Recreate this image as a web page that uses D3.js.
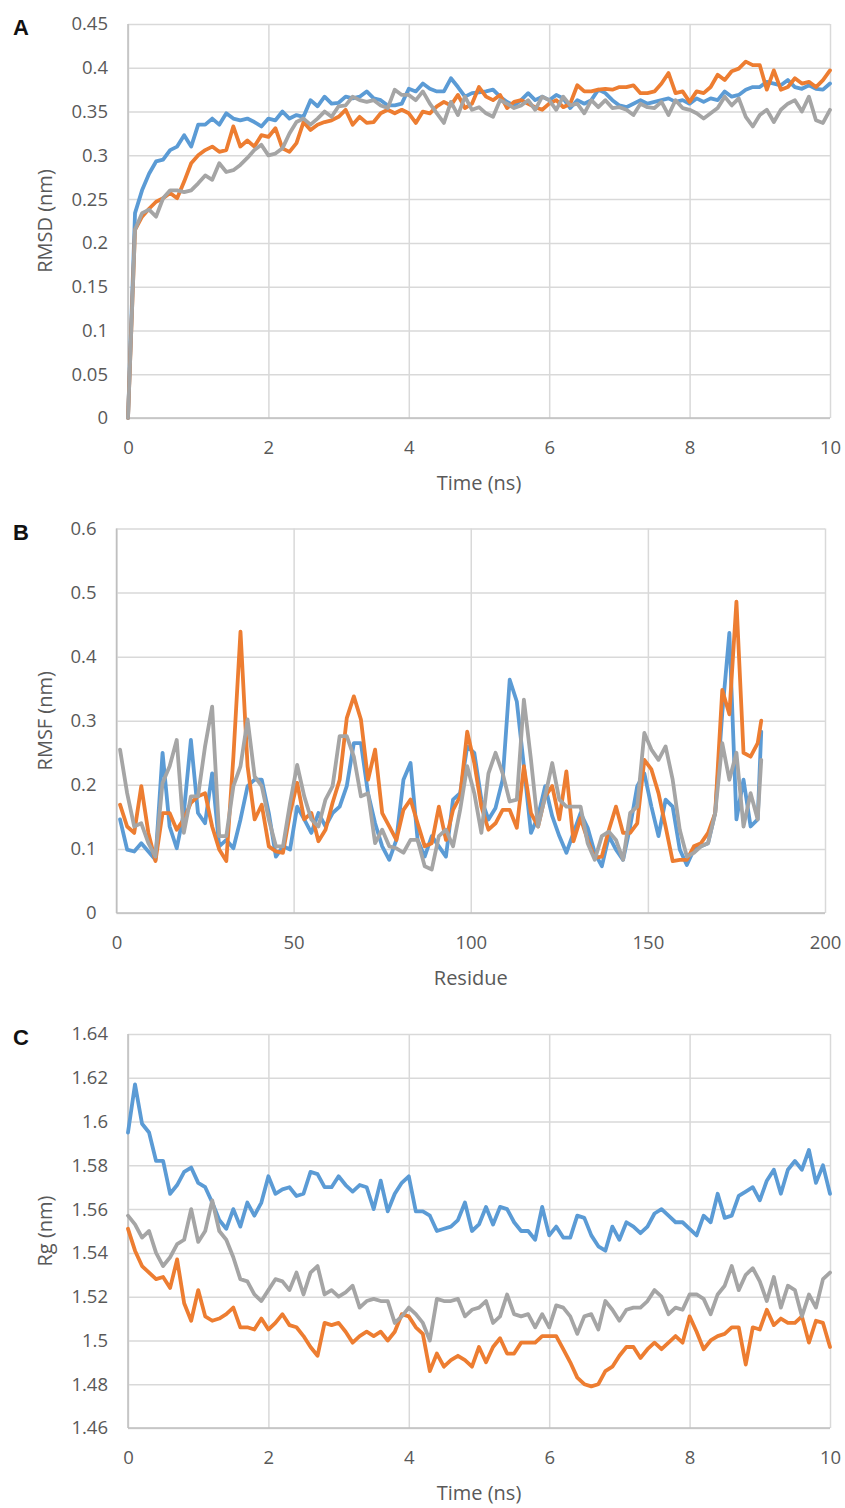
<!DOCTYPE html>
<html>
<head>
<meta charset="utf-8">
<script src="https://cdnjs.cloudflare.com/ajax/libs/d3/7.8.5/d3.min.js"></script>
<style>
body { margin: 0; background: #fff; }
</style>
</head>
<body>
<svg></svg>
<script>

// time axis for panels A and C (ns), one frame per 0.1 ns
var times = d3.range(0, 101).map(function (i) { return i / 10 })
// residues sampled for panel B
var residues = d3.range(1, 182, 2).concat([182])

var timeTicks = [0, 2, 4, 6, 8, 10]
var residueTicks = [0, 50, 100, 150, 200]
var rmsdTicks = [0, 0.05, 0.1, 0.15, 0.2, 0.25, 0.3, 0.35, 0.4, 0.45]
var rmsfTicks = [0, 0.1, 0.2, 0.3, 0.4, 0.5, 0.6]
var rgTicks = [1.46, 1.48, 1.5, 1.52, 1.54, 1.56, 1.58, 1.6, 1.62, 1.64]

var colors = ["#5b9bd5", "#ed7d31", "#a5a5a5"]

// panel A - RMSD
var rmsdBlue = [
 0, 0.234, 0.260, 0.279, 0.293, 0.295, 0.306, 0.310, 0.323, 0.310,
 0.335, 0.335, 0.342, 0.335, 0.348, 0.342, 0.340, 0.342, 0.338, 0.333,
 0.342, 0.340, 0.350, 0.342, 0.346, 0.344, 0.363, 0.356, 0.367, 0.359,
 0.360, 0.367, 0.365, 0.367, 0.373, 0.365, 0.363, 0.357, 0.357, 0.359,
 0.376, 0.373, 0.382, 0.376, 0.373, 0.373, 0.388, 0.378, 0.367, 0.371,
 0.372, 0.373, 0.375, 0.367, 0.361, 0.357, 0.363, 0.371, 0.363, 0.367,
 0.363, 0.369, 0.365, 0.354, 0.363, 0.359, 0.363, 0.375, 0.371, 0.363,
 0.357, 0.355, 0.359, 0.363, 0.359, 0.361, 0.363, 0.365, 0.361, 0.363,
 0.359, 0.365, 0.361, 0.365, 0.363, 0.373, 0.367, 0.369, 0.375, 0.378,
 0.378, 0.384, 0.382, 0.380, 0.386, 0.378, 0.376, 0.380, 0.376, 0.375,
 0.382]
var rmsdOrange = [
 0, 0.215, 0.230, 0.239, 0.247, 0.251, 0.257, 0.251, 0.270, 0.291,
 0.300, 0.306, 0.310, 0.304, 0.306, 0.333, 0.310, 0.317, 0.310, 0.323,
 0.321, 0.331, 0.308, 0.304, 0.314, 0.338, 0.329, 0.335, 0.338, 0.340,
 0.344, 0.352, 0.335, 0.344, 0.337, 0.338, 0.348, 0.352, 0.348, 0.352,
 0.348, 0.337, 0.350, 0.348, 0.356, 0.361, 0.357, 0.369, 0.354, 0.359,
 0.378, 0.367, 0.363, 0.369, 0.354, 0.361, 0.363, 0.359, 0.355, 0.352,
 0.359, 0.363, 0.355, 0.359, 0.380, 0.373, 0.373, 0.375, 0.376, 0.375,
 0.378, 0.378, 0.380, 0.371, 0.371, 0.373, 0.382, 0.394, 0.371, 0.373,
 0.361, 0.373, 0.371, 0.378, 0.392, 0.386, 0.396, 0.399, 0.407, 0.403,
 0.403, 0.375, 0.397, 0.375, 0.378, 0.388, 0.382, 0.384, 0.378, 0.386,
 0.397]
var rmsdGray = [
 0, 0.215, 0.234, 0.238, 0.230, 0.251, 0.260, 0.260, 0.258, 0.260,
 0.268, 0.277, 0.272, 0.291, 0.281, 0.283, 0.289, 0.297, 0.306, 0.312,
 0.300, 0.302, 0.308, 0.325, 0.338, 0.342, 0.335, 0.342, 0.350, 0.344,
 0.356, 0.357, 0.367, 0.363, 0.361, 0.363, 0.357, 0.354, 0.375, 0.369,
 0.369, 0.363, 0.373, 0.359, 0.348, 0.337, 0.361, 0.346, 0.367, 0.352,
 0.355, 0.348, 0.344, 0.363, 0.359, 0.354, 0.357, 0.363, 0.352, 0.367,
 0.363, 0.352, 0.367, 0.357, 0.359, 0.348, 0.363, 0.355, 0.363, 0.354,
 0.355, 0.352, 0.346, 0.359, 0.355, 0.354, 0.361, 0.346, 0.363, 0.354,
 0.352, 0.348, 0.342, 0.348, 0.354, 0.367, 0.357, 0.365, 0.344, 0.333,
 0.346, 0.352, 0.338, 0.352, 0.359, 0.363, 0.350, 0.367, 0.340, 0.337,
 0.352]

// panel B - RMSF
var rmsfBlue = [
 0.146, 0.099, 0.096, 0.109, 0.096, 0.083, 0.250, 0.135, 0.101, 0.156,
 0.270, 0.156, 0.140, 0.218, 0.104, 0.114, 0.101, 0.146, 0.198, 0.208,
 0.208, 0.156, 0.088, 0.104, 0.099, 0.166, 0.146, 0.125, 0.156, 0.135,
 0.156, 0.166, 0.198, 0.265, 0.265, 0.187, 0.140, 0.104, 0.083, 0.114,
 0.208, 0.234, 0.114, 0.088, 0.120, 0.104, 0.088, 0.177, 0.187, 0.260,
 0.250, 0.177, 0.146, 0.164, 0.208, 0.364, 0.330, 0.229, 0.125, 0.151,
 0.198, 0.151, 0.120, 0.094, 0.125, 0.156, 0.133, 0.094, 0.073, 0.120,
 0.099, 0.083, 0.135, 0.198, 0.218, 0.166, 0.120, 0.177, 0.166, 0.099,
 0.075, 0.099, 0.104, 0.109, 0.156, 0.312, 0.437, 0.146, 0.208, 0.135,
 0.146, 0.283]
var rmsfOrange = [
 0.169, 0.135, 0.125, 0.198, 0.125, 0.081, 0.156, 0.156, 0.130, 0.146,
 0.172, 0.182, 0.187, 0.135, 0.099, 0.081, 0.244, 0.439, 0.229, 0.146,
 0.169, 0.104, 0.096, 0.094, 0.156, 0.203, 0.146, 0.156, 0.112, 0.130,
 0.172, 0.208, 0.304, 0.338, 0.302, 0.208, 0.255, 0.156, 0.135, 0.114,
 0.161, 0.177, 0.140, 0.104, 0.109, 0.166, 0.114, 0.161, 0.182, 0.283,
 0.234, 0.166, 0.130, 0.140, 0.161, 0.161, 0.133, 0.229, 0.156, 0.135,
 0.182, 0.198, 0.146, 0.221, 0.112, 0.148, 0.114, 0.086, 0.088, 0.130,
 0.166, 0.125, 0.125, 0.140, 0.239, 0.224, 0.187, 0.135, 0.081, 0.083,
 0.083, 0.104, 0.109, 0.125, 0.156, 0.348, 0.310, 0.486, 0.250, 0.244,
 0.265, 0.300]
var rmsfGray = [
 0.255, 0.187, 0.135, 0.140, 0.109, 0.088, 0.203, 0.229, 0.270, 0.125,
 0.182, 0.182, 0.260, 0.322, 0.120, 0.120, 0.198, 0.229, 0.302, 0.213,
 0.198, 0.146, 0.104, 0.104, 0.172, 0.231, 0.182, 0.146, 0.135, 0.177,
 0.198, 0.276, 0.276, 0.244, 0.182, 0.187, 0.109, 0.130, 0.104, 0.101,
 0.094, 0.114, 0.114, 0.073, 0.068, 0.120, 0.130, 0.104, 0.161, 0.229,
 0.187, 0.125, 0.218, 0.250, 0.218, 0.174, 0.177, 0.333, 0.239, 0.135,
 0.182, 0.234, 0.177, 0.166, 0.166, 0.166, 0.109, 0.083, 0.120, 0.127,
 0.114, 0.083, 0.156, 0.166, 0.281, 0.255, 0.239, 0.260, 0.208, 0.130,
 0.088, 0.094, 0.104, 0.109, 0.156, 0.265, 0.208, 0.250, 0.135, 0.187,
 0.146, 0.239]

// panel C - radius of gyration
var rgBlue = [
 1.595, 1.617, 1.599, 1.595, 1.582, 1.582, 1.567, 1.571, 1.577, 1.579,
 1.572, 1.570, 1.563, 1.555, 1.551, 1.560, 1.552, 1.563, 1.557, 1.563,
 1.575, 1.567, 1.569, 1.570, 1.566, 1.567, 1.577, 1.576, 1.570, 1.570,
 1.575, 1.571, 1.568, 1.571, 1.570, 1.560, 1.573, 1.559, 1.567, 1.572,
 1.575, 1.559, 1.559, 1.557, 1.550, 1.551, 1.552, 1.555, 1.563, 1.550,
 1.553, 1.561, 1.553, 1.561, 1.560, 1.554, 1.550, 1.550, 1.546, 1.561,
 1.548, 1.552, 1.547, 1.547, 1.557, 1.556, 1.548, 1.543, 1.541, 1.552,
 1.546, 1.554, 1.552, 1.549, 1.552, 1.558, 1.560, 1.557, 1.554, 1.554,
 1.551, 1.548, 1.557, 1.554, 1.567, 1.556, 1.557, 1.566, 1.568, 1.570,
 1.564, 1.573, 1.578, 1.567, 1.578, 1.582, 1.578, 1.587, 1.572, 1.580,
 1.567]
var rgOrange = [
 1.551, 1.541, 1.534, 1.531, 1.528, 1.529, 1.524, 1.537, 1.517, 1.509,
 1.523, 1.511, 1.509, 1.510, 1.512, 1.515, 1.506, 1.506, 1.505, 1.510,
 1.505, 1.508, 1.512, 1.507, 1.506, 1.502, 1.497, 1.493, 1.508, 1.507,
 1.508, 1.504, 1.499, 1.502, 1.504, 1.502, 1.504, 1.500, 1.504, 1.512,
 1.511, 1.506, 1.503, 1.486, 1.494, 1.488, 1.491, 1.493, 1.491, 1.488,
 1.497, 1.490, 1.497, 1.501, 1.494, 1.494, 1.499, 1.499, 1.499, 1.502,
 1.502, 1.502, 1.496, 1.490, 1.483, 1.480, 1.479, 1.480, 1.486, 1.488,
 1.493, 1.497, 1.497, 1.492, 1.496, 1.499, 1.496, 1.499, 1.502, 1.499,
 1.511, 1.504, 1.496, 1.500, 1.502, 1.503, 1.506, 1.506, 1.489, 1.506,
 1.505, 1.514, 1.507, 1.510, 1.508, 1.508, 1.511, 1.499, 1.509, 1.508,
 1.497]
var rgGray = [
 1.557, 1.553, 1.547, 1.550, 1.540, 1.534, 1.538, 1.544, 1.546, 1.560,
 1.545, 1.550, 1.564, 1.550, 1.546, 1.538, 1.528, 1.527, 1.521, 1.518,
 1.523, 1.528, 1.527, 1.523, 1.531, 1.521, 1.531, 1.534, 1.521, 1.523,
 1.520, 1.522, 1.525, 1.515, 1.518, 1.519, 1.518, 1.518, 1.508, 1.511,
 1.515, 1.512, 1.508, 1.500, 1.519, 1.518, 1.518, 1.519, 1.511, 1.514,
 1.515, 1.518, 1.508, 1.511, 1.521, 1.512, 1.511, 1.512, 1.506, 1.512,
 1.506, 1.516, 1.515, 1.511, 1.503, 1.511, 1.512, 1.505, 1.518, 1.514,
 1.509, 1.514, 1.515, 1.515, 1.518, 1.523, 1.520, 1.512, 1.515, 1.514,
 1.521, 1.521, 1.519, 1.512, 1.521, 1.525, 1.534, 1.523, 1.530, 1.533,
 1.527, 1.518, 1.529, 1.515, 1.525, 1.523, 1.511, 1.521, 1.515, 1.528,
 1.531]


var svg = d3.select("svg")
    .attr("width", 845)
    .attr("height", 1508)

var drawPanel = function (p)
{
    var xScale = d3.scaleLinear()
        .domain([p.xTicks[0], p.xTicks[p.xTicks.length - 1]])
        .range([p.left, p.right])
    var yScale = d3.scaleLinear()
        .domain([p.yTicks[0], p.yTicks[p.yTicks.length - 1]])
        .range([p.bottom, p.top])

    var g = svg.append("g")

    // horizontal grid + y labels
    var yAxis = d3.axisLeft(yScale)
        .tickValues(p.yTicks)
        .tickSize(-(p.right - p.left))
        .tickPadding(20)
        .tickFormat(d3.format("~g"))
    g.append("g")
        .attr("transform", "translate(" + p.left + ",0)")
        .call(yAxis)
        .call(styleAxis)

    // vertical grid + x labels
    var xAxis = d3.axisBottom(xScale)
        .tickValues(p.xTicks)
        .tickSize(-(p.bottom - p.top))
        .tickPadding(23)
        .tickFormat(d3.format("~g"))
    g.append("g")
        .attr("transform", "translate(0," + p.bottom + ")")
        .call(xAxis)
        .call(styleAxis)

    // axis lines
    g.append("line")
        .attr("x1", p.left).attr("x2", p.left)
        .attr("y1", p.top).attr("y2", p.bottom)
        .attr("stroke", "#bfbfbf").attr("stroke-width", 1.5)
    g.append("line")
        .attr("x1", p.left).attr("x2", p.right)
        .attr("y1", p.bottom).attr("y2", p.bottom)
        .attr("stroke", "#bfbfbf").attr("stroke-width", 1.5)

    var lineGenerator = d3.line()
        .x(function (d, i) { return xScale(p.xs[i]) })
        .y(function (d) { return yScale(d) })

    p.series.forEach(function (s, i)
    {
        g.append("path")
            .datum(s)
            .attr("fill", "none")
            .attr("stroke", colors[i])
            .attr("stroke-width", 3.8)
            .attr("stroke-linejoin", "round")
            .attr("stroke-linecap", "round")
            .attr("d", lineGenerator)
    })

    // axis titles
    g.append("text")
        .attr("x", (p.left + p.right) / 2)
        .attr("y", p.bottom + 72)
        .attr("text-anchor", "middle")
        .attr("font-family", "Open Sans")
        .attr("font-size", 20)
        .attr("fill", "#595959")
        .text(p.xTitle)
    g.append("text")
        .attr("transform", "translate(52," + ((p.top + p.bottom) / 2) + ")rotate(-90)")
        .attr("text-anchor", "middle")
        .attr("font-family", "Open Sans")
        .attr("font-size", 20)
        .attr("fill", "#595959")
        .text(p.yTitle)

    // panel letter
    g.append("text")
        .attr("x", 13)
        .attr("y", p.top + 11)
        .attr("font-family", "Liberation Sans")
        .attr("font-weight", "bold")
        .attr("font-size", 22)
        .attr("fill", "#111")
        .text(p.letter)
}

var styleAxis = function (ax)
{
    ax.select(".domain").remove()
    ax.attr("font-family", "Open Sans").attr("font-size", 18.5)
    ax.selectAll(".tick line")
        .attr("stroke", "#d9d9d9")
        .attr("stroke-width", 1.5)
    ax.selectAll(".tick text")
        .attr("fill", "#595959")
}

drawPanel({
    letter: "A", left: 128, right: 830, top: 24, bottom: 418,
    xTicks: timeTicks, yTicks: rmsdTicks, xs: times,
    series: [rmsdBlue, rmsdOrange, rmsdGray],
    xTitle: "Time (ns)", yTitle: "RMSD (nm)"
})

drawPanel({
    letter: "B", left: 116.5, right: 825, top: 528.5, bottom: 913,
    xTicks: residueTicks, yTicks: rmsfTicks, xs: residues,
    series: [rmsfBlue, rmsfOrange, rmsfGray],
    xTitle: "Residue", yTitle: "RMSF (nm)"
})

drawPanel({
    letter: "C", left: 128, right: 830, top: 1034, bottom: 1428,
    xTicks: timeTicks, yTicks: rgTicks, xs: times,
    series: [rgBlue, rgOrange, rgGray],
    xTitle: "Time (ns)", yTitle: "Rg (nm)"
})

</script>
</body>
</html>
